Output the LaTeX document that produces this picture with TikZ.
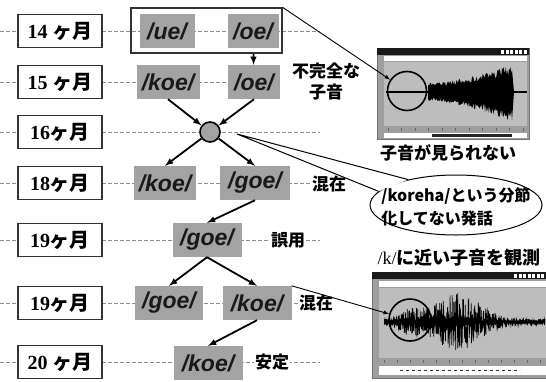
\documentclass[tikz,border=0pt]{standalone}
\usepackage{fontspec}
\setmainfont{Liberation Sans}
\newfontfamily\jp{Noto Sans CJK JP}
\newfontfamily\timesf{Liberation Serif}
\usepackage{tikz}
\usetikzlibrary{arrows,shapes}
\tikzstyle{guide}=[draw=black!45,dashed,dash pattern=on 4pt off 2pt,line width=0.8pt]
\tikzstyle{month}=[draw=black!80,line width=1.3pt,fill=white,minimum width=84pt,minimum height=33pt,inner sep=0pt,font=\fontsize{20}{22}\selectfont\bfseries]
\tikzstyle{syl}=[fill=black!36,text=black!90,minimum height=34pt,inner sep=0pt,font=\fontsize{23}{25}\selectfont\bfseries\itshape]
\tikzstyle{hubdot}=[circle,draw,line width=1.6pt,fill=black!36,minimum size=20pt,inner sep=0pt]
\tikzstyle{arr}=[draw,line width=1.8pt,-latex]
\tikzstyle{thinarr}=[draw,line width=0.9pt,-latex]
\tikzstyle{remark}=[fill=white,inner sep=1pt,align=center,font=\fontsize{17}{21}\selectfont\jp\bfseries]
\tikzstyle{ring}=[circle,draw,line width=1.6pt,inner sep=0pt]
\tikzstyle{bubble}=[ellipse,draw,line width=1pt,fill=white,minimum width=172pt,minimum height=60pt]

\begin{document}
\begin{tikzpicture}[x=1pt,y=-1pt,auto]
    \useasboundingbox (0,0) rectangle (546,381);
    \pgfmathsetseed{7}

    \foreach \y/\xe in {31/320,82/228,132/320,183/312,240/320,303/300,362/320}
        \draw[guide] (0,\y) -- (\xe,\y);

    \node[draw=black!80,line width=1.3pt,minimum width=151pt,minimum height=45pt] (grp) at (206.5,30.5) {};

    \foreach \y/\name/\num in {31/m14/14~,82/m15/15~,132/m16/16,183/m18/18,240/m19/19,303/m19b/19,362/m20/20~}
        \node[month] (\name) at (60,\y) {{\timesf\num}{\jp ヶ月}};

    \foreach \pos/\name/\val/\w in {{(167,31)/ue/ue/55},{(253,31)/oe1/oe/51},
    {(168,82)/koe1/koe/63},{(254,82)/oe2/oe/52},{(165,183)/koe2/koe/62},
    {(255,183)/goe1/goe/70},{(207,240)/goe2/goe/69},{(169,303)/goe3/goe/68},
    {(257,303)/koe3/koe/69},{(208,363)/koe4/koe/69}}
        \node[syl,minimum width=\w pt] (\name) at \pos {/\val/};

    \node[hubdot] (hub) at (210,132) {};

    \path[arr,shorten <=6pt] (oe1) -- (oe2);
    \foreach \source/\dest in {koe1.south/hub,oe2.south/hub,hub/koe2.north,hub/goe1.north,
    goe1.south/goe2.north,goe2.south/goe3.north,goe2.south/koe3.north,koe3.south/koe4.north}
        \path[arr] (\source) -- (\dest);

    \node[remark] (incomp) at (326,82) {不完全な\\子音};
    \node[remark] (mix1) at (329,184) {混在};
    \node[remark] (err) at (288,240) {誤用};
    \node[remark] (mix2) at (316,303) {混在};
    \node[remark] (stable) at (272,362) {安定};

    \node[bubble] (note) at (456,205) {};
    \coordinate (tip) at (237,134);
    \fill[white] (tip) -- (note.152) -- (note.170) -- cycle;
    \draw[line width=1pt] (note.152) -- (tip) -- (note.170);
    \node[align=left,inner sep=0pt,font=\fontsize{16}{23}\selectfont\jp\bfseries] (notetxt) at (456,207)
        {/koreha/という分節\\化してない発話};

    \fill[black!38] (377,48) rectangle (529,139);
    \draw[black!55] (377,48) rectangle (529,139);
    \fill[black!90] (377,48) rectangle (529,55);
    \foreach \i in {0,...,5}
        \fill[white] (501+\i*4.5,49.5) rectangle +(3,4);
    \fill[white] (384,56) rectangle (527,61);
    \fill[black!26] (384,62) rectangle (527,126);
    \foreach \i in {0,...,10}
        \draw[black!60] (388+\i*13.5,128) -- +(0,3);
    \fill[white] (384,133) rectangle (527,138);
    \fill[black!85] (432,134) rectangle (512,137);
    \draw[black,line width=1.2pt] (386,92) -- (527,92);
    \fill[black] (428,92)
        -- plot[domain=428:512,samples=110] (\x,{92-(9+19*((\x-428)/84)^1.6)*(0.8+0.2*rand)})
        -- (514,92)
        -- plot[domain=512:428,samples=110] (\x,{92+(9+21*((\x-428)/84)^1.6)*(0.8+0.2*rand)}) -- cycle;
    \node[ring,minimum size=39pt] (ring1) at (407,91) {};
    \node[inner sep=0pt,font=\fontsize{17}{20}\selectfont\jp\bfseries] (cap1) at (448,153) {子音が見られない};
    \path[thinarr] (grp.north east) -- (ring1);

    \node[inner sep=0pt,font=\fontsize{18}{20}\selectfont\jp\bfseries] (cap2) at (459,258) {{\timesf\mdseries /k/}に近い子音を観測};
    \fill[black!38] (372,272) rectangle (546,378);
    \draw[black!55] (372,272) rectangle (546,378);
    \fill[black!90] (372,272) rectangle (546,279);
    \foreach \i in {0,...,6}
        \fill[white] (514+\i*4.5,273.5) rectangle +(3,4);
    \fill[white] (379,281) rectangle (546,287);
    \fill[black!26] (379,288) rectangle (546,358);
    \foreach \i in {0,...,12}
        \draw[black!60] (384+\i*13,360) -- +(0,3);
    \fill[white] (379,366) rectangle (546,375);
    \draw[black!80,line width=1.5pt,dashed] (400,370.5) -- (520,370.5);
    \draw[black,line width=0.6pt] plot[domain=384:545,samples=700]
        (\x,{322+(3+26*exp(-((\x-458)/30)^2)+9*exp(-((\x-410)/14)^2))*rand});
    \fill[black] (384,322)
        -- plot[domain=384:545,samples=160] (\x,{322-(2+5*exp(-((\x-440)/45)^2))*(0.6+0.4*rand)})
        -- plot[domain=545:384,samples=160] (\x,{322+(2+5*exp(-((\x-440)/45)^2))*(0.6+0.4*rand)}) -- cycle;
    \node[ring,minimum size=42pt] (ring2) at (410,320) {};
    \path[thinarr] (koe3.north east) -- (ring2);
\end{tikzpicture}
\end{document}
